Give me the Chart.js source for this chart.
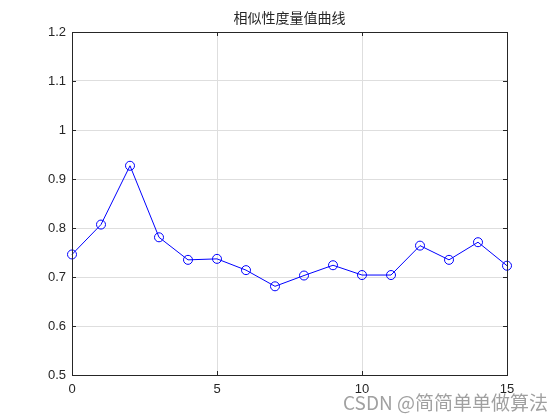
<!DOCTYPE html>
<html>
<head>
<meta charset="utf-8">
<script src="https://cdn.jsdelivr.net/npm/chart.js@4/dist/chart.umd.min.js"></script>
<style>
  body { margin: 0; background: #fff; }
  #wrap { position: relative; width: 560px; height: 420px; }
  #mark {
    position: absolute; right: 12px; bottom: 5px;
    font: 19px "Noto Sans CJK SC", "Liberation Sans", sans-serif;
    color: rgba(120, 120, 120, 0.7); white-space: nowrap;
  }
</style>
</head>
<body>
<div id="wrap">
  <canvas id="chart" width="560" height="420"></canvas>
  <div id="mark">CSDN @简简单单做算法</div>
</div>
<script>
// data
const xValues = [0, 1, 2, 3, 4, 5, 6, 7, 8, 9, 10, 11, 12, 13, 14, 15];
const similarity = [0.746, 0.807, 0.927, 0.781, 0.735, 0.737, 0.714, 0.681,
                    0.703, 0.724, 0.704, 0.704, 0.764, 0.735, 0.771, 0.723];
const chartTitle = '相似性度量值曲线';

const axisColor = '#262626';
const tickFont = { family: '"Liberation Sans", Arial, sans-serif', size: 13 };

// matlab style box + inward ticks
const boxPlugin = {
    id: 'box',
    afterDraw(chart) {
        const ctx = chart.ctx;
        const a = chart.chartArea;
        const len = 4;
        ctx.save();
        ctx.strokeStyle = axisColor;
        ctx.lineWidth = 1;
        ctx.beginPath();
        chart.scales.x.ticks.forEach(t => {
            const px = Math.round(chart.scales.x.getPixelForValue(t.value)) + 0.5;
            ctx.moveTo(px, a.bottom); ctx.lineTo(px, a.bottom - len);
            ctx.moveTo(px, a.top); ctx.lineTo(px, a.top + len);
        });
        chart.scales.y.ticks.forEach(t => {
            const py = Math.round(chart.scales.y.getPixelForValue(t.value)) + 0.5;
            ctx.moveTo(a.left, py); ctx.lineTo(a.left + len, py);
            ctx.moveTo(a.right, py); ctx.lineTo(a.right - len, py);
        });
        ctx.stroke();
        ctx.strokeRect(Math.round(a.left) + 0.5, Math.round(a.top) + 0.5,
                       Math.round(a.right - a.left), Math.round(a.bottom - a.top));
        ctx.restore();
    }
};

new Chart(document.getElementById('chart'), {
    type: 'scatter',
    data: {
        datasets: [{
            data: xValues.map((x, i) => ({ x: x, y: similarity[i] })),
            showLine: true,
            borderColor: 'rgb(0,0,255)',
            borderWidth: 1,
            pointRadius: 4.5,
            pointHoverRadius: 4.5,
            pointBorderColor: 'rgb(0,0,255)',
            pointBackgroundColor: 'rgba(0,0,0,0)',
            pointBorderWidth: 1,
            tension: 0,
            clip: false
        }]
    },
    options: {
        responsive: false,
        animation: false,
        layout: { padding: { left: 19, right: 0, top: 0, bottom: 0 } },
        plugins: {
            legend: { display: false },
            tooltip: { enabled: false },
            title: {
                display: true,
                text: chartTitle,
                color: '#262626',
                font: { family: '"Noto Sans CJK SC", sans-serif', size: 14, weight: 'normal', lineHeight: 1.2 },
                padding: { top: 9, bottom: 6.2 }
            }
        },
        scales: {
            x: {
                type: 'linear',
                min: 0, max: 15,
                ticks: { stepSize: 5, color: axisColor, padding: 7, maxRotation: 0, font: tickFont },
                grid: { color: '#dedede', drawTicks: false },
                border: { display: false },
                afterFit(scale) { scale.height = 45; }
            },
            y: {
                min: 0.5, max: 1.2,
                ticks: {
                    stepSize: 0.1,
                    color: axisColor,
                    padding: 6,
                    font: tickFont,
                    callback: v => String(Math.round(v * 10) / 10)
                },
                grid: { color: '#dedede', drawTicks: false },
                border: { display: false },
                afterFit(scale) { scale.width = 53; }
            },
            // empty right margin so the title centres over the plot
            yRight: {
                position: 'right',
                min: 0.5, max: 1.2,
                ticks: { display: false },
                grid: { display: false, drawTicks: false },
                border: { display: false },
                afterFit(scale) { scale.width = 53; }
            }
        }
    },
    plugins: [boxPlugin]
});
</script>
</body>
</html>
